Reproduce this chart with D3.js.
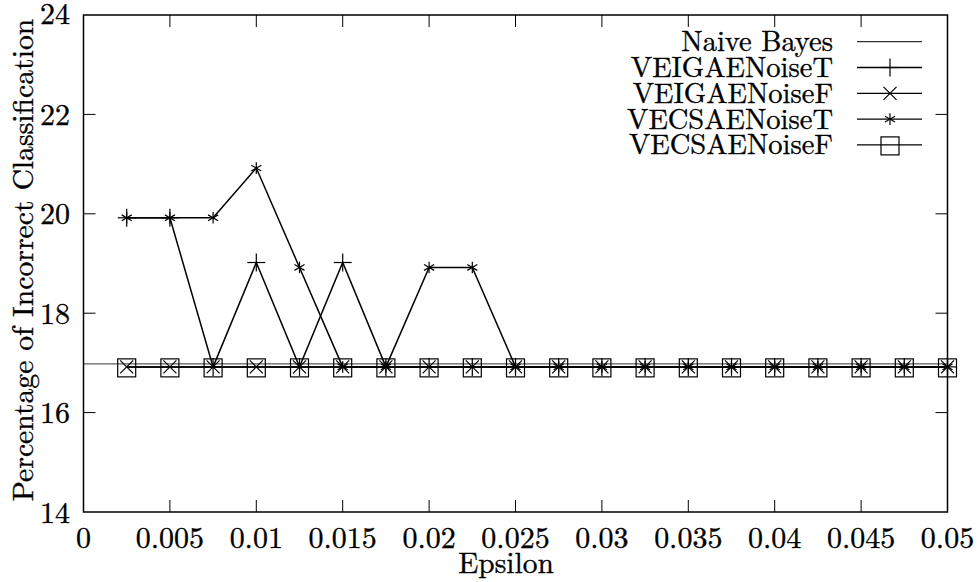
<!DOCTYPE html>
<html>
<head>
<meta charset="utf-8">
<script src="https://cdn.jsdelivr.net/npm/d3@7"></script>
</head>
<body style="margin:0;background:#fff">
<svg id="chart" width="978" height="582" font-family="'Latin Modern Roman', 'Liberation Serif', serif"></svg>
<script>
// ---- data ----
const epsilon = [0.0025, 0.005, 0.0075, 0.01, 0.0125, 0.015, 0.0175, 0.02, 0.0225, 0.025,
                 0.0275, 0.03, 0.0325, 0.035, 0.0375, 0.04, 0.0425, 0.045, 0.0475, 0.05];
const naiveBayesX = [0, 0.05];
const naiveBayes = [16.98, 16.98];
const veigaeNoiseT = [19.92, 19.92, 16.92, 19.02, 16.92, 19.02, 16.92, 16.92, 16.92, 16.92,
                      16.92, 16.92, 16.92, 16.92, 16.92, 16.92, 16.92, 16.92, 16.92, 16.92];
const veigaeNoiseF = [16.92, 16.92, 16.92, 16.92, 16.92, 16.92, 16.92, 16.92, 16.92, 16.92,
                      16.92, 16.92, 16.92, 16.92, 16.92, 16.92, 16.92, 16.92, 16.92, 16.92];
const vecsaeNoiseT = [19.92, 19.92, 19.92, 20.92, 18.92, 16.92, 16.92, 18.92, 18.92, 16.92,
                      16.92, 16.92, 16.92, 16.92, 16.92, 16.92, 16.92, 16.92, 16.92, 16.92];
const vecsaeNoiseF = [16.92, 16.92, 16.92, 16.92, 16.92, 16.92, 16.92, 16.92, 16.92, 16.92,
                      16.92, 16.92, 16.92, 16.92, 16.92, 16.92, 16.92, 16.92, 16.92, 16.92];
const xTicks = [0, 0.005, 0.01, 0.015, 0.02, 0.025, 0.03, 0.035, 0.04, 0.045, 0.05];
const xTickLabels = ["0", "0.005", "0.01", "0.015", "0.02", "0.025", "0.03", "0.035", "0.04", "0.045", "0.05"];
const yTicks = [14, 16, 18, 20, 22, 24];
const seriesNames = ["Naive Bayes", "VEIGAENoiseT", "VEIGAENoiseF", "VECSAENoiseT", "VECSAENoiseF"];
const xLabel = "Epsilon";
const yLabel = "Percentage of Incorrect Classification";

// ---- layout ----
const FONT = "'Latin Modern Roman', 'Liberation Serif', serif";
const L = 83.5, R = 947.5, T = 15, B = 512;
const svg = d3.select("#chart");
const x = d3.scaleLinear().domain([0, 0.05]).range([L, R]);
const y = d3.scaleLinear().domain([14, 24]).range([B, T]);
const tickLen = 12;

function txt(g, xx, yy, s, anchor, fs) {
  return g.append("text").attr("x", xx).attr("y", yy).attr("text-anchor", anchor)
    .attr("font-family", FONT).attr("font-size", fs).attr("fill", "#000")
    .attr("stroke", "#000").attr("stroke-width", 0.35).text(s);
}

// ticks (inward, mirrored)
const axisG = svg.append("g");
xTicks.forEach((t, i) => {
  if (i > 0 && i < xTicks.length - 1) {
    axisG.append("line").attr("x1", x(t)).attr("x2", x(t)).attr("y1", B).attr("y2", B - tickLen)
      .attr("stroke", "#000").attr("stroke-width", 1);
    axisG.append("line").attr("x1", x(t)).attr("x2", x(t)).attr("y1", T).attr("y2", T + tickLen)
      .attr("stroke", "#000").attr("stroke-width", 1);
  }
  txt(axisG, x(t), 548, xTickLabels[i], "middle", 30);
});
yTicks.forEach((t, i) => {
  if (i > 0 && i < yTicks.length - 1) {
    axisG.append("line").attr("x1", L).attr("x2", L + tickLen).attr("y1", y(t)).attr("y2", y(t))
      .attr("stroke", "#000").attr("stroke-width", 1);
    axisG.append("line").attr("x1", R).attr("x2", R - tickLen).attr("y1", y(t)).attr("y2", y(t))
      .attr("stroke", "#000").attr("stroke-width", 1);
  }
  txt(axisG, 70, y(t) + (i === yTicks.length - 1 ? 8.5 : 10.5), String(t), "end", 30);
});

// axis labels
txt(svg, 506, 573, xLabel, "middle", 29.5);
txt(svg, 0, 0, yLabel, "middle", 29.7).attr("transform", "translate(33,260) rotate(-90)");

// ---- markers ----
function drawMarker(g, type, cx, cy) {
  const s = g.append("g").attr("transform", `translate(${cx},${cy})`)
    .attr("stroke", "#000").attr("stroke-width", 1.2).attr("fill", "none");
  if (type === "plus") {
    s.append("line").attr("x1", -9).attr("x2", 9).attr("y1", 0).attr("y2", 0);
    s.append("line").attr("x1", 0).attr("x2", 0).attr("y1", -9).attr("y2", 9);
  } else if (type === "cross") {
    s.append("line").attr("x1", -6.5).attr("x2", 6.5).attr("y1", -6.5).attr("y2", 6.5);
    s.append("line").attr("x1", -6.5).attr("x2", 6.5).attr("y1", 6.5).attr("y2", -6.5);
  } else if (type === "star") {
    const r = 5.8;
    [90, 30, 150].forEach(a => {
      const rad = a * Math.PI / 180;
      s.append("line").attr("x1", -r * Math.cos(rad)).attr("y1", -r * Math.sin(rad))
        .attr("x2", r * Math.cos(rad)).attr("y2", r * Math.sin(rad));
    });
  } else if (type === "square") {
    s.append("rect").attr("x", -9).attr("y", -8).attr("width", 18).attr("height", 18);
  }
}

const series = [
  { name: seriesNames[1], values: veigaeNoiseT, marker: "plus" },
  { name: seriesNames[2], values: veigaeNoiseF, marker: "cross" },
  { name: seriesNames[3], values: vecsaeNoiseT, marker: "star" },
  { name: seriesNames[4], values: vecsaeNoiseF, marker: "square" }
];

const line = d3.line().x(d => x(d[0])).y(d => y(d[1]));
const plotG = svg.append("g");

// Naive Bayes
plotG.append("path").datum(naiveBayesX.map((v, i) => [v, naiveBayes[i]]))
  .attr("d", line).attr("fill", "none").attr("stroke", "#333").attr("stroke-width", 1);

series.forEach(sr => {
  const pts = epsilon.map((e, i) => [e, sr.values[i]]);
  plotG.append("path").datum(pts).attr("d", line).attr("fill", "none")
    .attr("stroke", "#000").attr("stroke-width", 1.5);
  pts.forEach(p => drawMarker(plotG, sr.marker, x(p[0]), y(p[1])));
});

// ---- legend ----
const legG = svg.append("g");
const legendMarkers = [null, "plus", "cross", "star", "square"];
seriesNames.forEach((n, i) => {
  const ly = 41.7 + 25.8 * i;
  txt(legG, 833, ly + 9.5, n, "end", 28.5);
  legG.append("line").attr("x1", 857).attr("x2", 922).attr("y1", ly).attr("y2", ly)
    .attr("stroke", "#000").attr("stroke-width", i === 0 ? 1 : 1.3);
  if (legendMarkers[i]) drawMarker(legG, legendMarkers[i], 890, ly);
});

// border
svg.append("rect").attr("x", L).attr("y", T).attr("width", R - L).attr("height", B - T)
  .attr("fill", "none").attr("stroke", "#000").attr("stroke-width", 1.5);
</script>
</body>
</html>
